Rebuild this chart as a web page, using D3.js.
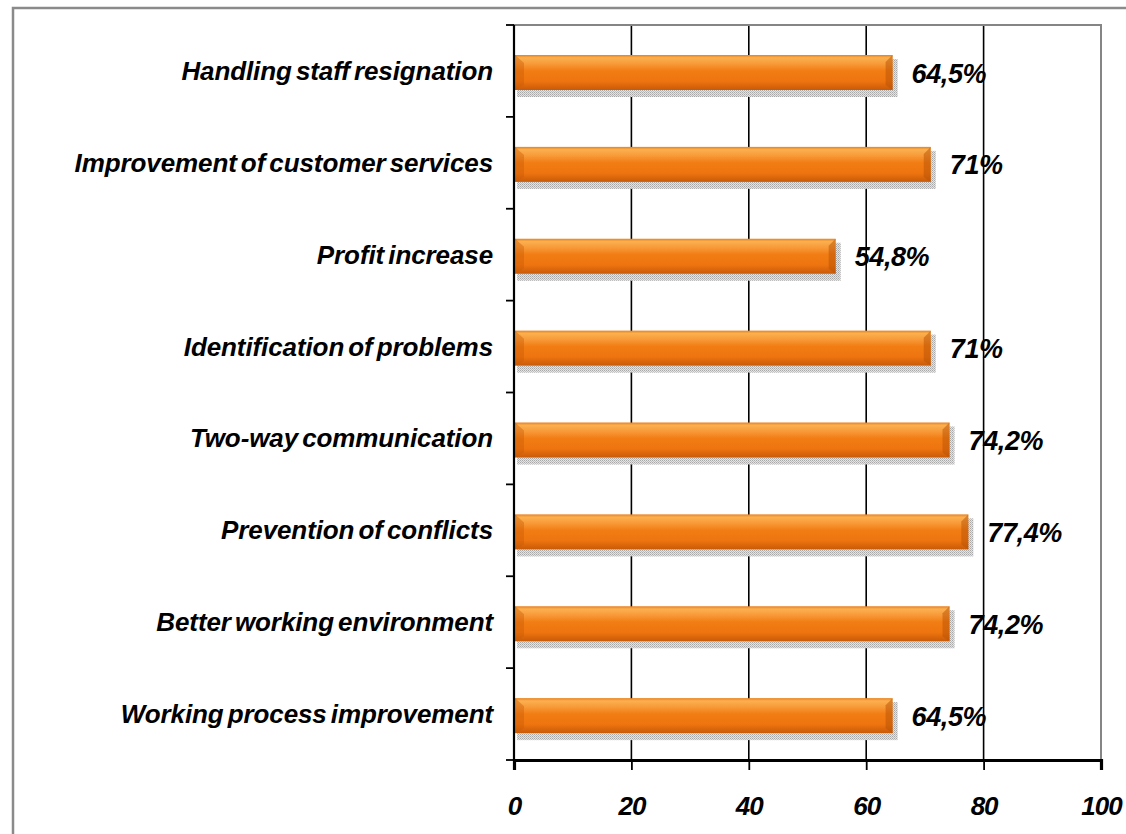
<!DOCTYPE html>
<html>
<head>
<meta charset="utf-8">
<script src="https://cdn.jsdelivr.net/npm/d3@7"></script>
<style>
  body { margin: 0; background: #fff; }
  text { font-family: "Liberation Sans", Arial, sans-serif; font-weight: bold; font-style: italic; fill: #000; }
</style>
</head>
<body>
<div id="chart_div"></div>
<script>
const categories = [
    "Handling staff resignation",
    "Improvement of customer services",
    "Profit increase",
    "Identification of problems",
    "Two-way communication",
    "Prevention of conflicts",
    "Better working environment",
    "Working process improvement"
];
const values = [64.5, 71, 54.8, 71, 74.2, 77.4, 74.2, 64.5];
const valueLabels = ["64,5%", "71%", "54,8%", "71%", "74,2%", "77,4%", "74,2%", "64,5%"];
const xTicks = [0, 20, 40, 60, 80, 100];

const data = categories.map((c, i) => ({ cat: c, value: values[i], label: valueLabels[i] }));

const width = 1126;
const height = 834;
const margin = { left: 514, right: 25, top: 25, bottom: 74 };

const svg = d3.select("#chart_div")
    .append("svg")
    .attr("width", width)
    .attr("height", height);

const defs = svg.append("defs");

// bar gradient
const grad = defs.append("linearGradient")
    .attr("id", "barGrad")
    .attr("x1", 0).attr("y1", 0).attr("x2", 0).attr("y2", 1);
[[0, "#e9801c"], [0.08, "#fbb050"], [0.25, "#f89a38"], [0.45, "#f27d14"], [0.75, "#ee740f"], [1, "#c85a08"]]
    .forEach(([o, c]) => grad.append("stop").attr("offset", o).attr("stop-color", c));

// dotted shadow
const pat = defs.append("pattern")
    .attr("id", "shadowPat")
    .attr("width", 2).attr("height", 2)
    .attr("patternUnits", "userSpaceOnUse");
pat.append("rect").attr("width", 2).attr("height", 2).attr("fill", "#e4e4e4");
pat.append("rect").attr("width", 1).attr("height", 1).attr("fill", "#a8a8a8");
pat.append("rect").attr("x", 1).attr("y", 1).attr("width", 1).attr("height", 1).attr("fill", "#bdbdbd");

// Scales

const x = d3.scaleLinear()
    .domain([0, 100])
    .range([margin.left, width - margin.right]);

const y = d3.scaleBand()
    .domain(categories)
    .range([margin.top, height - margin.bottom]);

const barH = 35;
const barOff = 30;

// outer border
svg.append("rect")
    .attr("x", 13).attr("y", 8)
    .attr("width", 1300).attr("height", 1000)
    .attr("fill", "none")
    .attr("stroke", "#8a8a8a")
    .attr("stroke-width", 2.5);

// gridlines
svg.append("g")
    .selectAll("line")
    .data(xTicks.filter(d => d > 0 && d < 100))
    .enter()
    .append("line")
    .attr("x1", d => x(d)).attr("x2", d => x(d))
    .attr("y1", margin.top).attr("y2", height - margin.bottom)
    .attr("stroke", "#000")
    .attr("stroke-width", 1.6);

// plot area border
svg.append("rect")
    .attr("x", x(0)).attr("y", margin.top)
    .attr("width", x(100) - x(0))
    .attr("height", height - margin.bottom - margin.top)
    .attr("fill", "none")
    .attr("stroke", "#858585")
    .attr("stroke-width", 2);

// Bars

const bars = svg.append("g").selectAll("g")
    .data(data)
    .enter()
    .append("g");

bars.append("rect")
    .attr("x", d => x(0) + 3)
    .attr("y", d => y(d.cat) + barOff + 4)
    .attr("width", d => x(d.value) - x(0) + 2)
    .attr("height", barH + 3)
    .attr("fill", "url(#shadowPat)");

bars.append("rect")
    .attr("x", x(0) + 1)
    .attr("y", d => y(d.cat) + barOff)
    .attr("width", d => x(d.value) - x(0) - 1)
    .attr("height", barH)
    .attr("fill", "url(#barGrad)");

// end bevels
bars.append("path")
    .attr("d", d => {
        const x0 = x(0) + 1, y0 = y(d.cat) + barOff;
        return `M${x0},${y0} L${x0 + 9},${y0 + 8} L${x0 + 9},${y0 + barH - 5} L${x0},${y0 + barH} Z`;
    })
    .attr("fill", "#c75a06")
    .attr("opacity", 0.4);

bars.append("path")
    .attr("d", d => {
        const x1 = x(d.value), y0 = y(d.cat) + barOff;
        return `M${x1},${y0} L${x1 - 7},${y0 + 7} L${x1 - 7},${y0 + barH - 5} L${x1},${y0 + barH} Z`;
    })
    .attr("fill", "#b85205")
    .attr("opacity", 0.5);

// value labels
bars.append("text")
    .attr("x", d => x(d.value) + 19)
    .attr("y", d => y(d.cat) + barOff + barH / 2 + 10)
    .attr("font-size", 27)
    .attr("letter-spacing", -0.4)
    .text(d => d.label);

// Axes

const yAxis = svg.append("g")
    .attr("transform", `translate(${x(0)},0)`);
yAxis.append("line")
    .attr("x1", 0).attr("x2", 0)
    .attr("y1", margin.top).attr("y2", height - margin.bottom)
    .attr("stroke", "#000").attr("stroke-width", 2.2);
yAxis.selectAll(".tick")
    .data(d3.range(categories.length + 1))
    .enter()
    .append("line")
    .attr("x1", -8).attr("x2", 0)
    .attr("y1", i => margin.top + i * y.step())
    .attr("y2", i => margin.top + i * y.step())
    .attr("stroke", "#000").attr("stroke-width", 1.8);

svg.append("g")
    .selectAll("text")
    .data(categories)
    .enter()
    .append("text")
    .attr("x", 493)
    .attr("y", d => y(d) + y.bandwidth() / 2 + 9)
    .attr("text-anchor", "end")
    .attr("font-size", 26)
    .attr("letter-spacing", -0.1)
    .attr("word-spacing", -3)
    .text(d => d);

const xAxis = svg.append("g")
    .attr("transform", `translate(0,${height - margin.bottom})`)
    .call(d3.axisBottom(x).tickValues(xTicks).tickSize(10).tickPadding(27).tickFormat(d3.format("")));
xAxis.select(".domain")
    .attr("stroke", "#000").attr("stroke-width", 3.2);
xAxis.selectAll(".tick line")
    .attr("stroke", "#000").attr("stroke-width", 1.8);
xAxis.selectAll(".tick text")
    .attr("font-family", null)
    .attr("font-size", 26)
    .attr("letter-spacing", -1)
    .attr("fill", "#000");
</script>
</body>
</html>
